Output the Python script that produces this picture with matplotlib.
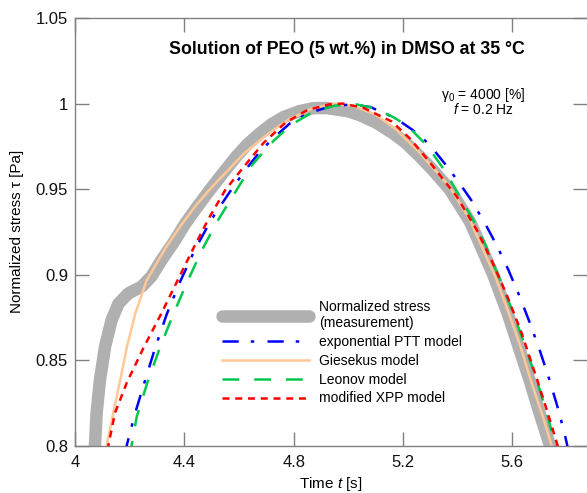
import matplotlib
matplotlib.use("Agg")
import matplotlib.pyplot as plt

plt.rcParams['font.family'] = ['Liberation Sans', 'DejaVu Sans']
plt.rcParams['mathtext.fontset'] = 'custom'
plt.rcParams['mathtext.rm'] = 'Liberation Sans'
plt.rcParams['mathtext.it'] = 'Liberation Sans:italic'
plt.rcParams['mathtext.bf'] = 'Liberation Sans:bold'

# ---- data ----
t_meas = [4.066, 4.073, 4.079, 4.091, 4.110, 4.134, 4.159, 4.195, 4.244, 4.280, 4.317,
          4.366, 4.400, 4.440, 4.494, 4.540, 4.590, 4.630, 4.677, 4.720, 4.762, 4.820,
          4.872, 4.920, 4.957, 5.000, 5.043, 5.100, 5.165, 5.210, 5.262, 5.310, 5.372,
          5.445, 5.488, 5.530, 5.585, 5.625, 5.665, 5.700, 5.738, 5.745]
tau_meas = [0.788, 0.800, 0.819, 0.838, 0.858, 0.8735, 0.883, 0.889, 0.893, 0.899, 0.9086,
            0.920, 0.929, 0.938, 0.9496, 0.959, 0.969, 0.976, 0.9827, 0.988, 0.992, 0.9955,
            0.9973, 0.9974, 0.9965, 0.9955, 0.9932, 0.989, 0.9825, 0.977, 0.969, 0.961, 0.9496,
            0.931, 0.9155, 0.900, 0.8765, 0.857, 0.8375, 0.819, 0.800, 0.796]

t_ptt = [4.186, 4.189, 4.220, 4.256, 4.293, 4.336, 4.385, 4.440, 4.500, 4.565, 4.620,
         4.670, 4.720, 4.787, 4.854, 4.933, 5.010, 5.080, 5.171, 5.235, 5.295, 5.350,
         5.400, 5.450, 5.500, 5.545, 5.585, 5.625, 5.665, 5.700, 5.735, 5.765, 5.790,
         5.800, 5.805]
tau_ptt = [0.795, 0.800, 0.819, 0.838, 0.857, 0.877, 0.896, 0.915, 0.9325, 0.948, 0.9605,
           0.9705, 0.979, 0.9885, 0.9944, 0.9982, 0.9995, 0.998, 0.9916, 0.9846, 0.9764, 0.9655,
           0.955, 0.9435, 0.930, 0.9165, 0.903, 0.888, 0.8715, 0.856, 0.839, 0.823, 0.808,
           0.801, 0.797]

t_gie = [4.112, 4.116, 4.140, 4.165, 4.189, 4.220, 4.262, 4.300, 4.329, 4.384, 4.440,
         4.500, 4.560, 4.620, 4.700, 4.780, 4.870, 4.950, 5.020, 5.100, 5.170, 5.260,
         5.370, 5.445, 5.494, 5.540, 5.592, 5.630, 5.671, 5.710, 5.744, 5.748]
tau_gie = [0.790, 0.800, 0.819, 0.838, 0.857, 0.877, 0.8965, 0.907, 0.915, 0.928, 0.940,
           0.951, 0.961, 0.971, 0.9815, 0.9905, 0.9972, 1.000, 0.9985, 0.9935, 0.9855, 0.9715,
           0.9515, 0.932, 0.9144, 0.898, 0.8754, 0.858, 0.8365, 0.818, 0.800, 0.797]

t_leo = [4.203, 4.207, 4.226, 4.265, 4.310, 4.360, 4.410, 4.465, 4.520, 4.580, 4.645,
         4.715, 4.790, 4.870, 4.950, 5.030, 5.100, 5.165, 5.219, 5.290, 5.354, 5.421,
         5.460, 5.500, 5.550, 5.600, 5.650, 5.690, 5.725, 5.758, 5.762]
tau_leo = [0.793, 0.800, 0.817, 0.837, 0.857, 0.877, 0.8955, 0.9145, 0.931, 0.9465, 0.9635,
           0.9765, 0.9875, 0.995, 0.9988, 0.9995, 0.997, 0.992, 0.9867, 0.975, 0.9605, 0.942,
           0.931, 0.918, 0.899, 0.879, 0.857, 0.838, 0.820, 0.800, 0.797]

t_xpp = [4.118, 4.122, 4.146, 4.190, 4.250, 4.315, 4.375, 4.435, 4.490, 4.550, 4.620,
         4.690, 4.770, 4.850, 4.930, 4.980, 5.055, 5.159, 5.226, 5.299, 5.397, 5.470,
         5.525, 5.580, 5.635, 5.689, 5.730, 5.766, 5.770]
tau_xpp = [0.790, 0.800, 0.819, 0.837, 0.857, 0.877, 0.8965, 0.916, 0.933, 0.9495, 0.9635,
           0.977, 0.9888, 0.9962, 0.9995, 1.000, 0.9975, 0.9895, 0.9795, 0.9655, 0.9456, 0.9261,
           0.908, 0.888, 0.8655, 0.8395, 0.819, 0.800, 0.797]

xticks = [4.0, 4.4, 4.8, 5.2, 5.6]
xticklabels = ["4", "4.4", "4.8", "5.2", "5.6"]
yticks = [0.8, 0.85, 0.9, 0.95, 1.0, 1.05]
yticklabels = ["0.8", "0.85", "0.9", "0.95", "1", "1.05"]

labels = ["Normalized stress\n(measurement)", "exponential PTT model",
          "Giesekus model", "Leonov model", "modified XPP model"]

# ---- figure ----
W, H = 587, 493
fig = plt.figure(figsize=(W / 100, H / 100), dpi=100)
ax = fig.add_axes([75 / W, 47.3 / H, (587 - 75) / W, 427.7 / H])

lw = 1.8
ax.plot(t_meas, tau_meas, color='#b0b0b0', lw=9, solid_capstyle='round',
        solid_joinstyle='round', label=labels[0], zorder=1)
ax.plot(t_ptt, tau_ptt, color='#0000ff', lw=lw, label=labels[1],
        linestyle=(0, (6.5, 4.8, 1.4, 5.3)), zorder=3)
ax.plot(t_gie, tau_gie, color='#ffc896', lw=lw, label=labels[2], zorder=2)
ax.plot(t_leo, tau_leo, color='#00c84b', lw=lw, label=labels[3],
        linestyle=(0, (6.7, 6.0)), zorder=3)
ax.plot(t_xpp, tau_xpp, color='#ff0000', lw=lw, label=labels[4],
        linestyle=(0, (2.8, 2.3)), zorder=4)

ax.set_xlim(4.0, 4.0 + 512 / 273.3)
ax.set_ylim(0.8, 1.05)
ax.set_xticks(xticks)
ax.set_xticklabels(xticklabels)
ax.set_yticks(yticks)
ax.set_yticklabels(yticklabels)

ax.tick_params(direction='in', length=10, width=1, color='#808080',
               top=True, right=True, labelsize=12, labelcolor='#111111')
ax.tick_params(axis='x', pad=7)
ax.tick_params(axis='y', pad=5)
for s in ax.spines.values():
    s.set_color('#808080')
    s.set_linewidth(1)
ax.spines['right'].set_visible(False)

ax.set_xlabel("Time $t$ [s]", fontsize=11)
ax.set_ylabel("Normalized stress τ [Pa]", fontsize=11)
ax.xaxis.set_label_coords(0.5, -0.068)
ax.yaxis.set_label_coords(-0.10, 0.5)

ax.text(0.532, 0.926, "Solution of PEO (5 wt.%) in DMSO at 35 °C", transform=ax.transAxes,
        ha='center', va='center', fontsize=12.8, fontweight='bold')
ax.text(0.797, 0.8207, r"$\mathregular{\gamma_0}$ = 4000 [%]", transform=ax.transAxes,
        ha='center', va='center', fontsize=10)
ax.text(0.797, 0.7856, r"$f$ = 0.2 Hz", transform=ax.transAxes,
        ha='center', va='center', fontsize=10)

ax.legend(loc='upper left', bbox_to_anchor=(0.2865, 0.341), frameon=False,
          fontsize=10, handlelength=6.3, handletextpad=0.7, labelspacing=0.35,
          borderpad=0, borderaxespad=0)

fig.savefig("out.png", dpi=100)
